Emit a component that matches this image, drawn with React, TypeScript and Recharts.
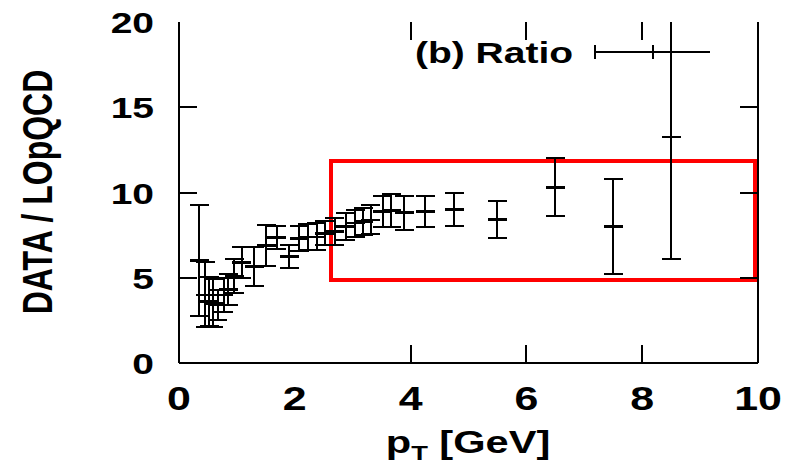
import React from 'react';
import { ScatterChart, Scatter, XAxis, YAxis, ErrorBar, ReferenceArea, Customized } from 'recharts';

// pT bin centres [GeV], DATA/LOpQCD ratio and its uncertainty
const ptValues = [0.35, 0.45, 0.52, 0.59, 0.67, 0.77, 0.85, 0.95, 1.08, 1.3, 1.51, 1.69, 1.9, 2.08, 2.22, 2.38, 2.52, 2.69, 2.88, 3.04, 3.18, 3.31, 3.52, 3.67, 3.89, 4.25, 4.75, 5.5, 6.5, 7.5, 8.5];
const ratioValues = [6.0, 4.0, 3.6, 3.5, 3.4, 4.0, 4.3, 5.1, 5.9, 5.65, 6.9, 7.37, 6.24, 7.3, 7.4, 7.4, 7.6, 7.7, 8.0, 8.2, 8.3, 8.4, 8.9, 8.95, 8.82, 8.88, 9.0, 8.43, 10.3, 8.0, 13.25];
const ratioErrors = [3.25, 1.9, 1.45, 1.4, 0.9, 1.0, 0.9, 1.0, 0.9, 1.15, 1.2, 0.68, 0.66, 0.75, 0.75, 0.8, 0.7, 0.8, 0.8, 0.8, 0.8, 0.85, 0.9, 0.95, 1.0, 0.9, 0.97, 1.07, 1.7, 2.8, 7.15];

const xTickValues = [0, 2, 4, 6, 8, 10];
const xTickMarks = [4, 6, 8];
const yTickValues = [0, 5, 10, 15, 20];
const yTickMarks = [5, 10, 15];

// highlighted region
const boxPt = [2.63, 9.95];
const boxRatio = [4.85, 11.85];

const data = ptValues.map((pt, i) => ({ pt, ratio: ratioValues[i], err: ratioErrors[i] }));

const font: React.CSSProperties = { fontFamily: '"Liberation Sans", Arial, sans-serif', fontWeight: 'bold', fontSize: 30, fill: '#000' };
const TICK = 18;

const LeftTick = ({ x, y, payload }: any) => (
  <g>
    {yTickMarks.includes(payload.value) && <line x1={x} x2={x + TICK} y1={y} y2={y} stroke="#000" strokeWidth={2} />}
    <text transform={`translate(${x - 25},${y + 11}) scale(1.3,1)`} textAnchor="end" style={font}>{payload.value}</text>
  </g>
);

const RightTick = ({ x, y, payload }: any) => (
  yTickMarks.includes(payload.value) ? <line x1={x} x2={x - TICK} y1={y} y2={y} stroke="#000" strokeWidth={2} /> : <g />
);

const BottomTick = ({ x, y, payload }: any) => (
  <g>
    {xTickMarks.includes(payload.value) && <line x1={x} x2={x} y1={y} y2={y - TICK} stroke="#000" strokeWidth={2} />}
    <text transform={`translate(${x},${y + 47}) scale(1.3,1)`} textAnchor="middle" style={{ ...font, fontSize: 33 }}>{payload.value}</text>
  </g>
);

const TopTick = ({ x, y, payload }: any) => (
  xTickMarks.includes(payload.value) ? <line x1={x} x2={x} y1={y} y2={y + TICK} stroke="#000" strokeWidth={2} /> : <g />
);

const CentreMark = ({ cx, cy }: any) => (
  <line x1={cx - 9.5} x2={cx + 9.5} y1={cy} y2={cy} stroke="#000" strokeWidth={2.5} />
);

const NoMark = () => <g />;

const Labels = () => (
  <g>
    <defs>
      <clipPath id="plotClip">
        <rect x={178} y={22} width={581} height={342} />
      </clipPath>
    </defs>
    <text transform="translate(52,192) scale(1.3,1) rotate(-90)" textAnchor="middle" style={{ ...font, fontSize: 32 }}>DATA / LOpQCD</text>
    <text transform="translate(468,453) scale(1.3,1)" textAnchor="middle" style={{ ...font, fontSize: 32 }}>
      <tspan>p</tspan>
      <tspan dy={7} style={{ fontSize: 21 }}>T</tspan>
      <tspan dy={-7}> [GeV]</tspan>
    </text>
    <text transform="translate(415,63) scale(1.3,1)" style={font}>(b) Ratio</text>
    <line x1={595} x2={710} y1={52} y2={52} stroke="#000" strokeWidth={2} />
    <line x1={595} x2={595} y1={45} y2={59} stroke="#000" strokeWidth={2} />
    <line x1={653} x2={653} y1={45} y2={59} stroke="#000" strokeWidth={2} />
  </g>
);

export default function App() {
  return (
    <div style={{ position: 'absolute', left: 0, top: 0, background: '#fff' }}>
      <style>{`
        .recharts-errorBars { clip-path: url(#plotClip); }
        .recharts-surface line, .recharts-surface path { shape-rendering: crispEdges; }
      `}</style>
      <ScatterChart width={794} height={464} margin={{ top: 21, right: 35, bottom: 0, left: 0 }}>
        <XAxis
          dataKey="pt"
          type="number"
          domain={[0, 10]}
          ticks={xTickValues}
          interval={0}
          height={101}
          tickSize={0}
          tickMargin={0}
          tickLine={false}
          axisLine={{ stroke: '#000', strokeWidth: 2 }}
          tick={BottomTick}
          allowDataOverflow
        />
        <XAxis
          xAxisId="top"
          dataKey="pt"
          orientation="top"
          type="number"
          domain={[0, 10]}
          ticks={xTickMarks}
          interval={0}
          height={1}
          tickSize={0}
          tickMargin={0}
          tickLine={false}
          axisLine={false}
          tick={TopTick}
          allowDataOverflow
        />
        <YAxis
          dataKey="ratio"
          type="number"
          domain={[0, 20]}
          ticks={yTickValues}
          interval={0}
          width={179}
          tickSize={0}
          tickMargin={0}
          tickLine={false}
          axisLine={{ stroke: '#000', strokeWidth: 2 }}
          tick={LeftTick}
          allowDataOverflow
        />
        <YAxis
          yAxisId="right"
          dataKey="ratio"
          orientation="right"
          type="number"
          domain={[0, 20]}
          ticks={yTickValues}
          interval={0}
          width={1}
          tickSize={0}
          tickMargin={0}
          tickLine={false}
          axisLine={{ stroke: '#000', strokeWidth: 2 }}
          tick={RightTick}
          allowDataOverflow
        />
        <Scatter data={data} xAxisId="top" yAxisId="right" shape={<NoMark />} isAnimationActive={false} />
        <Scatter data={data} shape={<CentreMark />} isAnimationActive={false}>
          <ErrorBar dataKey="err" direction="y" width={9.5} stroke="#000" strokeWidth={2} isAnimationActive={false} />
        </Scatter>
        <ReferenceArea x1={boxPt[0]} x2={boxPt[1]} y1={boxRatio[0]} y2={boxRatio[1]} fill="none" fillOpacity={0} stroke="#ff0000" strokeWidth={4} strokeOpacity={1} />
        <Customized component={Labels} />
      </ScatterChart>
    </div>
  );
}
